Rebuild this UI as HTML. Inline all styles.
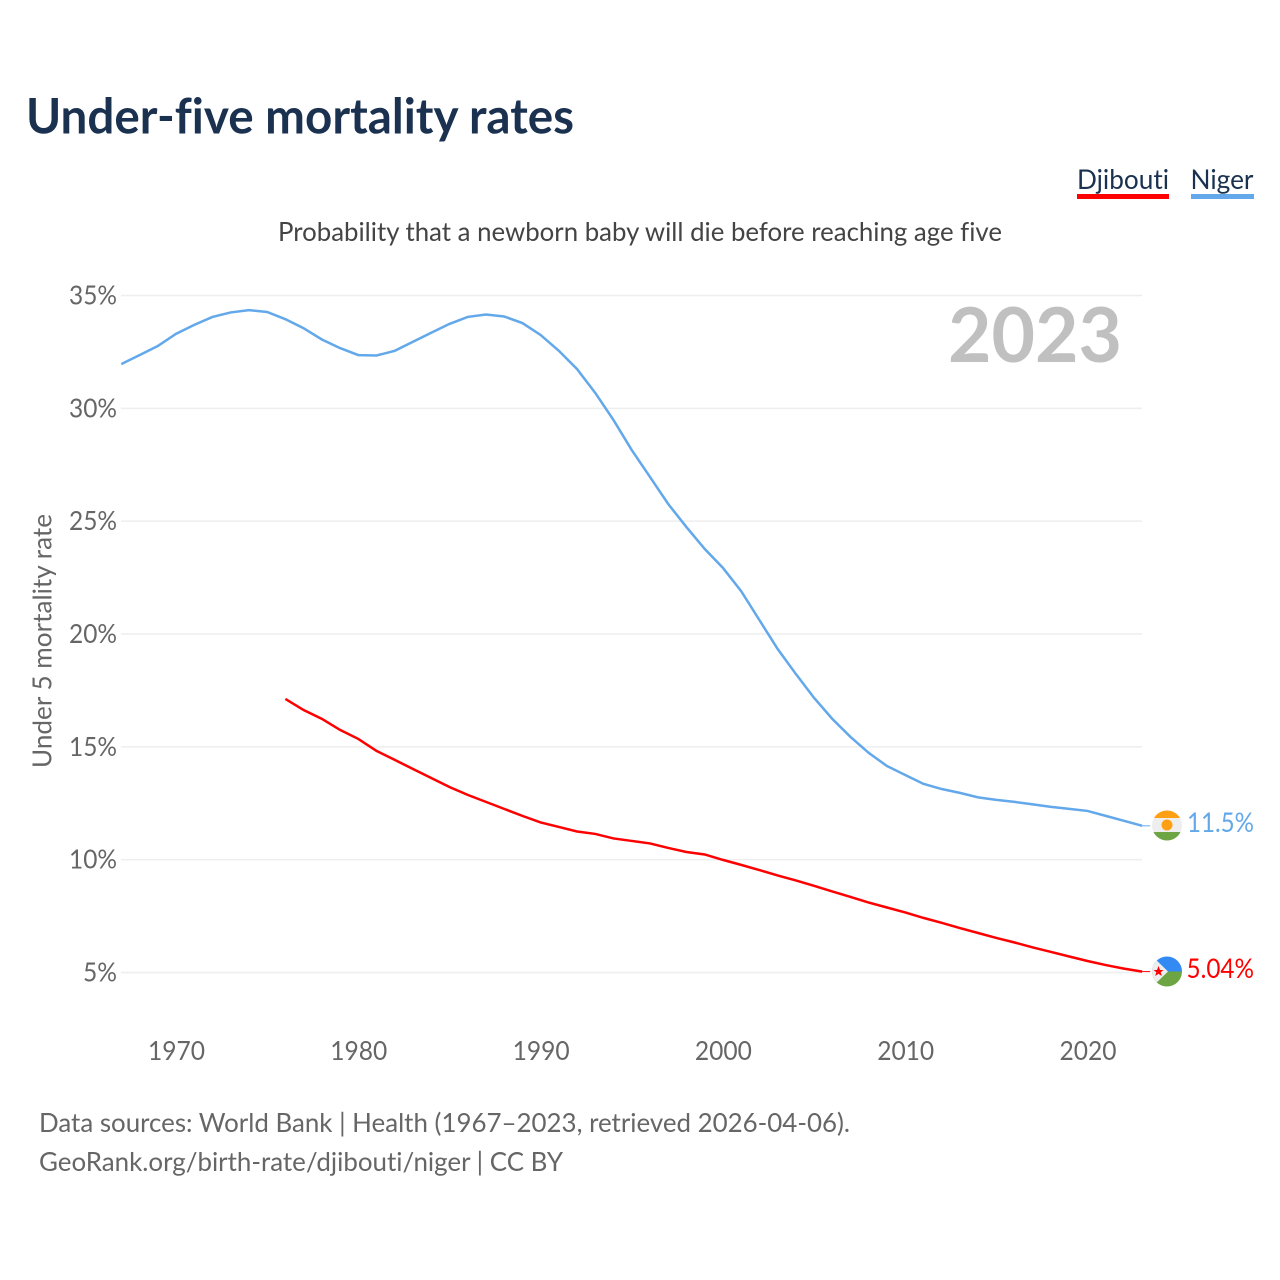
<!DOCTYPE html>
<html lang="en">
<head>
<meta charset="utf-8">
<title>Under-five mortality rates</title>
<style>
html,body{margin:0;padding:0;background:#fff;}
svg{display:block;font-family:"Lato","Carlito","Liberation Sans",sans-serif;font-variant-ligatures:none;}
</style>
</head>
<body>
<svg id="chart" xmlns="http://www.w3.org/2000/svg" width="1280" height="1280" viewBox="0 0 1280 1280">
  <rect width="1280" height="1280" fill="#ffffff"/>
  <text x="26" y="133.5" font-size="49" font-weight="700" fill="#1a3150" textLength="548" lengthAdjust="spacingAndGlyphs">Under-five mortality rates</text>

  <g>
    <text x="1077" y="189" font-size="27.5" fill="#1a3150" textLength="92" lengthAdjust="spacingAndGlyphs">Djibouti</text>
    <rect x="1077" y="194" width="92" height="5" fill="#ff0000"/>
  </g>
  <g>
    <text x="1190.5" y="189" font-size="27.5" fill="#1a3150" textLength="63" lengthAdjust="spacingAndGlyphs">Niger</text>
    <rect x="1191" y="194" width="63" height="5" fill="#62a8ea"/>
  </g>

  <text x="278" y="241" font-size="26.5" fill="#444444" textLength="724" lengthAdjust="spacingAndGlyphs">Probability that a newborn baby will die before reaching age five</text>

  <g id="grid"></g>
  <g id="y-ticks"></g>
  <g id="x-ticks"></g>

  <text transform="translate(51.5,641) rotate(-90)" text-anchor="middle" font-size="26.5" fill="#666666" textLength="254" lengthAdjust="spacingAndGlyphs">Under 5 mortality rate</text>

  <text x="948" y="362" font-size="76" font-weight="700" fill="#c0c0c0" textLength="174" lengthAdjust="spacingAndGlyphs">2023</text>

  <g id="series"></g>

  <defs>
    <clipPath id="niger-clip"><circle cx="1167" cy="825.5" r="15"/></clipPath>
    <clipPath id="djibouti-clip"><circle cx="1167" cy="971.5" r="15"/></clipPath>
  </defs>

  <g id="flag-niger" clip-path="url(#niger-clip)">
    <rect x="1152" y="810" width="30" height="31" fill="#eeeeee"/>
    <rect x="1152" y="810" width="30" height="8" fill="#ff9f14"/>
    <rect x="1152" y="832" width="30" height="9" fill="#6da544"/>
    <circle cx="1167" cy="825" r="5.5" fill="#ff9f14"/>
  </g>
  <g id="flag-djibouti" clip-path="url(#djibouti-clip)">
    <rect x="1152" y="956" width="30" height="15.5" fill="#338af3"/>
    <rect x="1152" y="971.5" width="30" height="15.5" fill="#6da544"/>
    <polygon points="1150,954 1168,971.5 1150,989" fill="#eeeeee"/>
    <polygon points="1158.5,966 1160,970 1163.5,970 1160.7,972.3 1161.8,976 1158.5,973.7 1155.2,976 1156.3,972.3 1153.5,970 1157,970" fill="#ff0000"/>
  </g>

  <text x="1187" y="832" font-size="27.5" fill="#62a8ea" textLength="67" lengthAdjust="spacingAndGlyphs">11.5%</text>
  <text x="1186.5" y="978" font-size="27.5" fill="#ff0000" textLength="67.5" lengthAdjust="spacingAndGlyphs">5.04%</text>

  <text x="39" y="1132" font-size="26.5" fill="#666666" textLength="811" lengthAdjust="spacingAndGlyphs">Data sources: World Bank | Health (1967–2023, retrieved 2026-04-06).</text>
  <text x="39" y="1171" font-size="26.5" fill="#666666" textLength="524" lengthAdjust="spacingAndGlyphs">GeoRank.org/birth-rate/djibouti/niger | CC BY</text>
</svg>

<script>
const yTickValues = [5, 10, 15, 20, 25, 30, 35];
const yTickLabels = ['5%', '10%', '15%', '20%', '25%', '30%', '35%'];
const xTickValues = [1970, 1980, 1990, 2000, 2010, 2020];
const xTickLabels = ['1970', '1980', '1990', '2000', '2010', '2020'];

const nigerStartYear = 1967;
const nigerValues = [
  31.96, 32.36, 32.76, 33.3, 33.7, 34.05, 34.25, 34.35, 34.27, 33.95,
  33.55, 33.05, 32.67, 32.36, 32.34, 32.55, 32.95, 33.35, 33.74, 34.05,
  34.16, 34.07, 33.78, 33.25, 32.55, 31.74, 30.68, 29.48, 28.15, 26.96,
  25.76, 24.74, 23.77, 22.93, 21.9, 20.62, 19.34, 18.23, 17.17, 16.24,
  15.44, 14.73, 14.15, 13.75, 13.36, 13.13, 12.96, 12.76, 12.65, 12.56,
  12.45, 12.34, 12.25, 12.16, 11.94, 11.72, 11.5
];

const djiboutiStartYear = 1976;
const djiboutiValues = [
  17.12, 16.63, 16.24, 15.75, 15.35, 14.82, 14.42, 14.02, 13.62, 13.22,
  12.87, 12.56, 12.25, 11.94, 11.65, 11.45, 11.25, 11.14, 10.94, 10.83,
  10.72, 10.52, 10.34, 10.23, 9.99, 9.77, 9.54, 9.3, 9.08, 8.84,
  8.59, 8.35, 8.1, 7.88, 7.66, 7.42, 7.2, 6.97, 6.75, 6.53,
  6.33, 6.11, 5.91, 5.71, 5.51, 5.33, 5.17, 5.04
];

const SVG_NS = 'http://www.w3.org/2000/svg';
const xScale = function (year) { return 176 + (year - 1970) * 18.23; };
const yScale = function (value) { return 972.5 - (value - 5) * 22.567; };

const gridGroup = document.getElementById('grid');
const yTickGroup = document.getElementById('y-ticks');
const xTickGroup = document.getElementById('x-ticks');
const seriesGroup = document.getElementById('series');

yTickValues.forEach(function (value, i) {
  const line = document.createElementNS(SVG_NS, 'line');
  
  
  line.setAttribute('x1', 121);
  line.setAttribute('x2', 1142);
  line.setAttribute('y1', yScale(value));
  line.setAttribute('y2', yScale(value));
  line.setAttribute('stroke', '#eeeeee');
  line.setAttribute('stroke-width', 1.5);
  gridGroup.appendChild(line);

  const label = document.createElementNS(SVG_NS, 'text');
  
  
  label.setAttribute('x', 117);
  label.setAttribute('y', yScale(value) + 9);
  label.setAttribute('text-anchor', 'end');
  label.setAttribute('font-size', 26.5);
  label.setAttribute('fill', '#666666');
  label.setAttribute('textLength', 20 + (yTickLabels[i].length - 1) * 14);
  label.setAttribute('lengthAdjust', 'spacingAndGlyphs');
  label.textContent = yTickLabels[i];
  yTickGroup.appendChild(label);
});

xTickValues.forEach(function (year, i) {
  const label = document.createElementNS(SVG_NS, 'text');
  
  
  label.setAttribute('x', xScale(year) + 0.5);
  label.setAttribute('y', 1060);
  label.setAttribute('text-anchor', 'middle');
  label.setAttribute('font-size', 26.5);
  label.setAttribute('fill', '#666666');
  label.setAttribute('textLength', 57);
  label.setAttribute('lengthAdjust', 'spacingAndGlyphs');
  label.textContent = xTickLabels[i];
  xTickGroup.appendChild(label);
});

function buildPoints(values, startYear) {
  return values.map(function (value, i) {
    return xScale(startYear + i).toFixed(2) + ',' + yScale(value).toFixed(2);
  }).join(' ');
}

function lastPoint(values, startYear) {
  return { x: xScale(startYear + values.length - 1), y: yScale(values[values.length - 1]) };
}

const nigerLine = document.createElementNS(SVG_NS, 'polyline');


nigerLine.setAttribute('points', buildPoints(nigerValues, nigerStartYear));
nigerLine.setAttribute('fill', 'none');
nigerLine.setAttribute('stroke', '#62a8ea');
nigerLine.setAttribute('stroke-width', 2.5);
seriesGroup.appendChild(nigerLine);

const djiboutiLine = document.createElementNS(SVG_NS, 'polyline');


djiboutiLine.setAttribute('points', buildPoints(djiboutiValues, djiboutiStartYear));
djiboutiLine.setAttribute('fill', 'none');
djiboutiLine.setAttribute('stroke', '#ff0000');
djiboutiLine.setAttribute('stroke-width', 2.5);
seriesGroup.appendChild(djiboutiLine);

const nigerEnd = lastPoint(nigerValues, nigerStartYear);
const nigerLeader = document.createElementNS(SVG_NS, 'line');


nigerLeader.setAttribute('x1', nigerEnd.x);
nigerLeader.setAttribute('x2', nigerEnd.x + 8);
nigerLeader.setAttribute('y1', nigerEnd.y);
nigerLeader.setAttribute('y2', nigerEnd.y);
nigerLeader.setAttribute('stroke', '#62a8ea');
nigerLeader.setAttribute('stroke-width', 1);
seriesGroup.appendChild(nigerLeader);

const djiboutiEnd = lastPoint(djiboutiValues, djiboutiStartYear);
const djiboutiLeader = document.createElementNS(SVG_NS, 'line');


djiboutiLeader.setAttribute('x1', djiboutiEnd.x);
djiboutiLeader.setAttribute('x2', djiboutiEnd.x + 8);
djiboutiLeader.setAttribute('y1', djiboutiEnd.y);
djiboutiLeader.setAttribute('y2', djiboutiEnd.y);
djiboutiLeader.setAttribute('stroke', '#ff0000');
djiboutiLeader.setAttribute('stroke-width', 1);
seriesGroup.appendChild(djiboutiLeader);
</script>
</body>
</html>
